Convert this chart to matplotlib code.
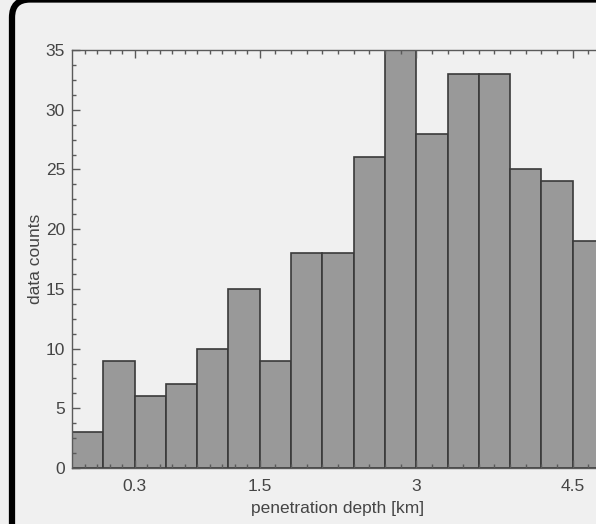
import numpy as np
import matplotlib
matplotlib.use("Agg")
import matplotlib.pyplot as plt
from matplotlib.patches import FancyBboxPatch
from matplotlib.transforms import IdentityTransform

# histogram data: bin edges start at -0.3, width 0.3 km
bin_start = -0.3
bin_width = 0.3
counts = [3, 9, 6, 7, 10, 15, 9, 18, 18, 26, 35, 28, 33, 33, 25, 24, 19]

x_major = [0.3, 1.5, 3, 4.5]
x_labels = ["0.3", "1.5", "3", "4.5"]
y_major = [0, 5, 10, 15, 20, 25, 30, 35]

plt.rcParams['font.family'] = ['Liberation Sans', 'DejaVu Sans']

bg = "#f0f0f0"
axcol = "#5a5a5a"
txtcol = "#454545"

fig = plt.figure(figsize=(5.96, 5.24), dpi=100, facecolor=bg)
ax = fig.add_axes([72 / 596, 56 / 524, 532 / 596, 418 / 524])
ax.set_facecolor(bg)

edges = bin_start + bin_width * np.arange(len(counts) + 1)
ax.bar(edges[:-1], counts, width=bin_width, align='edge',
       color="#999999", edgecolor="#3a3a3a", linewidth=1.2, zorder=1)

ax.set_xlim(edges[0], edges[-1])
ax.set_ylim(0, 35)

ax.set_xticks(x_major)
ax.set_xticklabels(x_labels)
ax.set_yticks(y_major)

# minor ticks: 10 subdivisions per major interval (MATLAB style)
minor_x = []
bounds = [-0.9] + x_major + [6.0]
for a, b in zip(bounds[:-1], bounds[1:]):
    if a == -0.9:
        step = (x_major[1] - x_major[0]) / 10
        minor_x += list(np.arange(x_major[0] - step, edges[0], -step))
    elif b == 6.0:
        step = (x_major[-1] - x_major[-2]) / 10
        minor_x += list(np.arange(a + step, edges[-1] + 1e-9, step))
    else:
        minor_x += list(np.linspace(a, b, 11)[1:-1])
ax.set_xticks(minor_x, minor=True)
ax.set_yticks(np.arange(0, 35.01, 1.25), minor=True)

ax.tick_params(which='both', direction='in', top=True, right=True,
               colors=axcol, labelcolor=txtcol, labelsize=12.5)
ax.tick_params(which='major', length=6, width=1)
ax.tick_params(which='minor', length=3, width=1)
ax.tick_params(axis='x', which='major', pad=8)
ax.tick_params(axis='y', which='major', pad=5)
for s in ax.spines.values():
    s.set_color(axcol)
    s.set_linewidth(1)

ax.set_xlabel("penetration depth [km]", fontsize=12.5, color=txtcol, labelpad=5)
ax.set_ylabel("data counts", fontsize=12.5, color=txtcol, labelpad=2)

# rounded frame around the panel (partly outside the image)
frame = FancyBboxPatch((12, -60), 700, 584.5,
                       boxstyle="round,pad=0,rounding_size=18",
                       transform=IdentityTransform(), facecolor='none',
                       edgecolor='black', linewidth=4.5, clip_on=False)
fig.add_artist(frame)

fig.savefig("out.png", dpi=100, facecolor=bg)
